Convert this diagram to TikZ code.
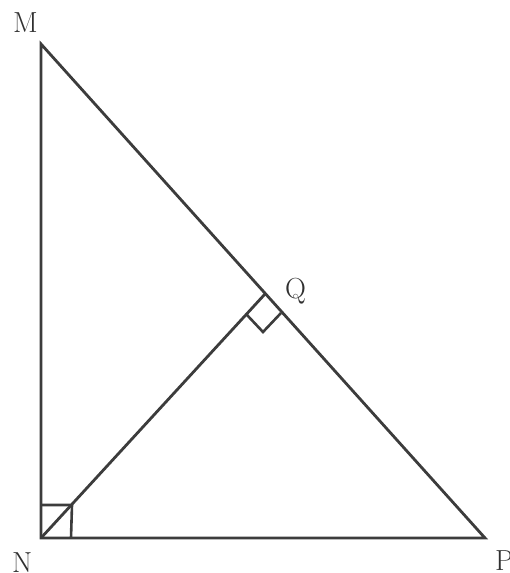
\documentclass[tikz,border=0pt]{standalone}
\usepackage{tikz}
\definecolor{edge}{HTML}{3C3C3C}
\definecolor{lbl}{HTML}{303030}
\begin{document}
\begin{tikzpicture}[x=1pt,y=-1pt,
  seg/.style={draw=edge,line width=2.8pt,line join=miter},
  rightmark/.style={draw=edge,line width=2.6pt},
  lab/.style={anchor=base west,inner sep=0pt,text=lbl,font=\fontsize{29}{32}\selectfont}]
\useasboundingbox (0,0) rectangle (509,573);
\coordinate (M) at (41,44);
\coordinate (N) at (41,538);
\coordinate (P) at (485,538);
\coordinate (Q) at (265,294);
\coordinate (qa) at (247,315);
\coordinate (qb) at (263,332);
\coordinate (qc) at (281,313);
\coordinate (na) at (41,505);
\coordinate (nb) at (72,505);
\coordinate (nc) at (71,538);
\draw[seg] (M) -- (N) -- (P) -- cycle;
\draw[seg] (N) -- (Q);
\draw[rightmark] (qa) -- (qb) -- (qc);
\draw[rightmark] (na) -- (nb) -- (nc);
\node[lab] (lM) at (13,32) {M};
\node[lab] (lN) at (12,572) {N};
\node[lab] (lP) at (495,570) {P};
\node[lab] (lQ) at (285,298) {Q};
\end{tikzpicture}
\end{document}
